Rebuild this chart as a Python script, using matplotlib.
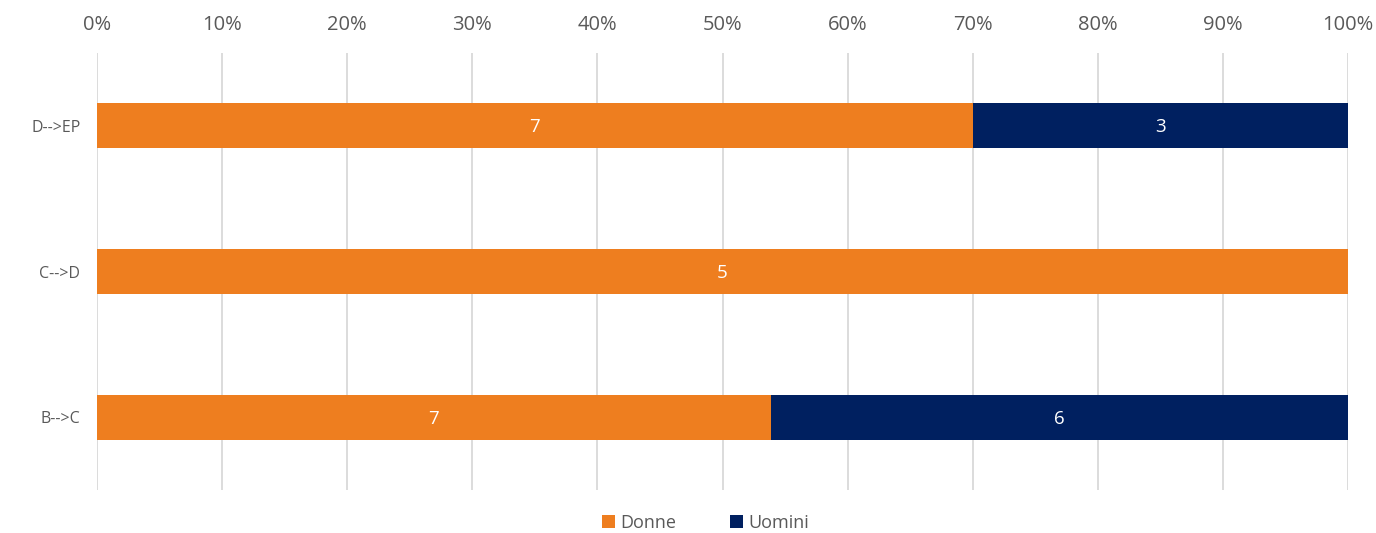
import matplotlib
matplotlib.use("Agg")
import matplotlib.pyplot as plt
from matplotlib.ticker import PercentFormatter
from matplotlib.patches import Patch

plt.rcParams['font.family'] = ['Open Sans', 'DejaVu Sans']

categories = ["B-->C", "C-->D", "D-->EP"]
donne = [7, 5, 7]
uomini = [6, 0, 3]
series_names = ["Donne", "Uomini"]
colors = ["#EE7E1F", "#002060"]
text_color = "#595959"
grid_color = "#D9D9D9"

totals = [d + u for d, u in zip(donne, uomini)]
donne_pct = [d / t * 100 for d, t in zip(donne, totals)]
uomini_pct = [u / t * 100 for u, t in zip(uomini, totals)]

fig = plt.figure(figsize=(13.76, 5.33), dpi=100)
ax = fig.add_axes([97 / 1376, 1 - 490 / 533, (1348 - 97) / 1376, (490 - 53) / 533])

y = range(len(categories))
bar_h = 0.31
b1 = ax.barh(y, donne_pct, height=bar_h, color=colors[0], zorder=3)
b2 = ax.barh(y, uomini_pct, left=donne_pct, height=bar_h, color=colors[1], zorder=3)

for rects, vals in ((b1, donne), (b2, uomini)):
    for r, v in zip(rects, vals):
        if v == 0:
            continue
        ax.text(r.get_x() + r.get_width() / 2, r.get_y() + r.get_height() / 2 - 0.01, str(v),
                ha="center", va="center", color="white", fontsize=13.5, zorder=4)

ax.set_xlim(0, 100)
ax.set_ylim(-0.5, 2.5)
ax.set_yticks(list(y))
ax.set_yticklabels(categories, fontsize=11.5, color=text_color)
ax.set_xticks(range(0, 101, 10))
ax.xaxis.set_major_formatter(PercentFormatter(decimals=0))
ax.xaxis.tick_top()
ax.tick_params(axis="x", length=0, pad=13, labelsize=14.5, labelcolor=text_color)
ax.tick_params(axis="y", length=0, pad=12)
ax.grid(axis="x", color=grid_color, linewidth=1.3, zorder=0)
for s in ax.spines.values():
    s.set_visible(False)

handles = [Patch(facecolor=c, edgecolor="none") for c in colors]
fig.legend(handles, series_names, loc="center", bbox_to_anchor=(0.5127, 1 - 523 / 533),
           ncol=2, frameon=False, fontsize=13, labelcolor=text_color,
           handlelength=0.7, handleheight=0.7, handletextpad=0.3, columnspacing=3.0)

fig.savefig("out.png", dpi=100)
